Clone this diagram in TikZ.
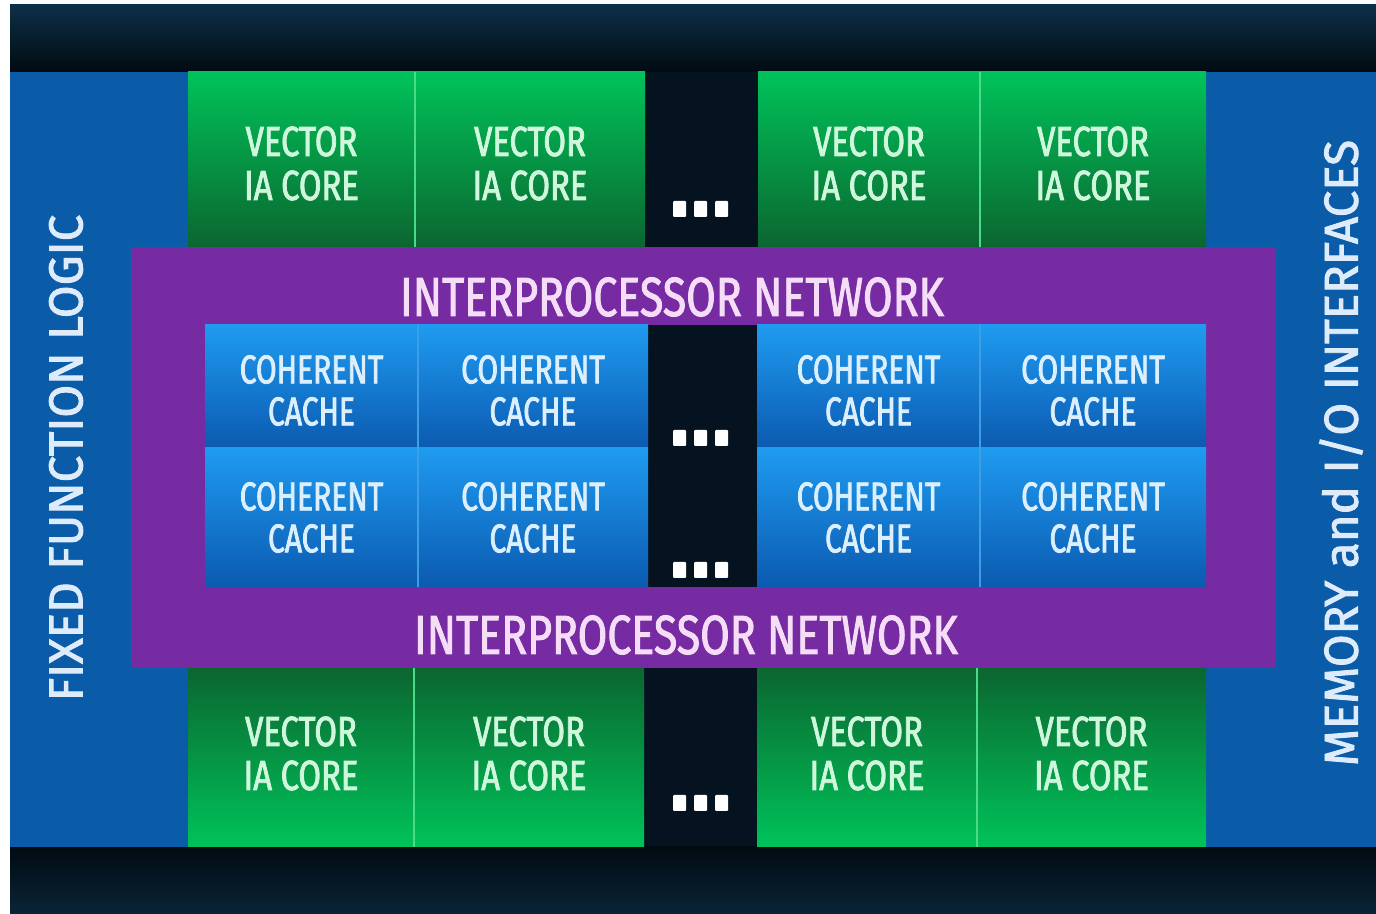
\documentclass[tikz,border=0pt]{standalone}
\usepackage{fontspec}
\newfontfamily\corefont[FakeStretch=0.78,FakeBold=2]{Fira Sans}
\newfontfamily\cachefont[FakeStretch=0.75,FakeBold=2]{Fira Sans}
\newfontfamily\netfont[FakeStretch=0.78,FakeBold=1.6]{Fira Sans}
\newfontfamily\sidefont[FakeStretch=1.0,FakeBold=2]{Fira Sans}
\definecolor{bgdark}{HTML}{04131F}
\definecolor{bandtop}{HTML}{0D2F48}
\definecolor{bandbot}{HTML}{020B11}
\definecolor{sideblue}{HTML}{0A5CA8}
\definecolor{gbright}{HTML}{00C35A}
\definecolor{gdark}{HTML}{0B6630}
\definecolor{gline}{HTML}{4ADB88}
\definecolor{ctop}{HTML}{1E9BF0}
\definecolor{cbot}{HTML}{0B5AB0}
\definecolor{cline}{HTML}{3C9FE6}
\definecolor{purp}{HTML}{762BA3}
\definecolor{coretext}{HTML}{CFF7DC}
\definecolor{cachetext}{HTML}{DCEFFF}
\definecolor{nettext}{HTML}{F5DDF8}
\definecolor{sidetext}{HTML}{DDEBFA}
\tikzset{
  block/.style={rectangle, inner sep=0pt, outer sep=0pt, anchor=north west},
  coretop/.style={block, top color=gbright, bottom color=gdark},
  corebot/.style={block, top color=gdark, bottom color=gbright},
  coretxt/.style={inner sep=0pt, align=center, text=coretext,
     font=\corefont\fontsize{42}{44}\selectfont},
  cachecell/.style={block, top color=ctop, bottom color=cbot},
  cachetxt/.style={inner sep=0pt, align=center, text=cachetext,
     font=\cachefont\fontsize{40}{42}\selectfont},
  netlabel/.style={inner sep=0pt, text=nettext, font=\netfont\fontsize{55}{60}\selectfont},
  sidelabel/.style={inner sep=0pt, text=sidetext, rotate=90, font=\sidefont\fontsize{47.5}{50}\selectfont},
  dotsq/.style={fill=white, rounded corners=1pt}
}
\begin{document}
\begin{tikzpicture}[x=1pt,y=1pt]
\useasboundingbox (0,0) rectangle (1376,913);
\fill[white] (0,0) rectangle (1376,913);
% dark background
\fill[bgdark] (10,0) rectangle (1376,908);
\shade[top color=bandtop, bottom color=bandbot] (10,841) rectangle (1376,908);
\shade[top color=bandbot, bottom color=bandtop!70!bandbot] (10,0) rectangle (1376,66);
% side panels
\node[block, fill=sideblue, minimum width=178pt, minimum height=775pt] (leftpanel) at (10,841) {};
\node[block, fill=sideblue, minimum width=170pt, minimum height=775pt] (rightpanel) at (1206,841) {};
% top cores
\node[coretop, minimum width=227pt, minimum height=175pt] (gT1) at (188,841) {};
\node[coretop, minimum width=230pt, minimum height=175pt] (gT2) at (415,841) {};
\node[coretop, minimum width=222pt, minimum height=175pt] (gT3) at (758,841) {};
\node[coretop, minimum width=226pt, minimum height=175pt] (gT4) at (980,841) {};
\draw[gline, line width=1.5pt] (gT1.north east) -- (gT1.south east);
\draw[gline, line width=1.5pt] (gT3.north east) -- (gT3.south east);
\foreach \n in {gT1,gT2,gT3,gT4}{
  \node[coretxt, yshift=-4pt] (\n-t) at (\n.center) {VECTOR\\IA CORE};
}
% bottom cores
\node[corebot, minimum width=226pt, minimum height=179pt] (gB1) at (188,245) {};
\node[corebot, minimum width=230pt, minimum height=179pt] (gB2) at (414,245) {};
\node[corebot, minimum width=220pt, minimum height=179pt] (gB3) at (757,245) {};
\node[corebot, minimum width=229pt, minimum height=179pt] (gB4) at (977,245) {};
\draw[gline, line width=1.5pt] (gB1.north east) -- (gB1.south east);
\draw[gline, line width=1.5pt] (gB3.north east) -- (gB3.south east);
\foreach \n in {gB1,gB2,gB3,gB4}{
  \node[coretxt, yshift=4pt] (\n-t) at (\n.center) {VECTOR\\IA CORE};
}
% interprocessor network
\node[block, fill=purp, minimum width=1145pt, minimum height=421pt] (net) at (131,666) {};
\node[netlabel] (netT) at (672,616) {INTERPROCESSOR NETWORK};
\node[netlabel] (netB) at (686,278) {INTERPROCESSOR NETWORK};
% caches
\node[block, fill=bgdark, minimum width=109pt, minimum height=262pt] (gap) at (648,588) {};
\node[cachecell, minimum width=213pt, minimum height=123pt] (c11) at (205,588) {};
\node[cachecell, minimum width=230pt, minimum height=123pt] (c12) at (418,588) {};
\node[cachecell, minimum width=223pt, minimum height=123pt] (c13) at (757,588) {};
\node[cachecell, minimum width=226pt, minimum height=123pt] (c14) at (980,588) {};
\node[cachecell, minimum width=213pt, minimum height=139pt] (c21) at (205,465) {};
\node[cachecell, minimum width=230pt, minimum height=139pt] (c22) at (418,465) {};
\node[cachecell, minimum width=223pt, minimum height=139pt] (c23) at (757,465) {};
\node[cachecell, minimum width=226pt, minimum height=139pt] (c24) at (980,465) {};
\draw[cline, line width=1.2pt] (c11.north east) -- (c21.south east);
\draw[cline, line width=1.2pt] (c13.north east) -- (c23.south east);
\foreach \n in {c11,c12,c13,c14}{
  \node[cachetxt, yshift=-4pt] (\n-t) at (\n.center) {COHERENT\\CACHE};
}
\foreach \n in {c21,c22,c23,c24}{
  \node[cachetxt] (\n-t) at (\n.center) {COHERENT\\CACHE};
}
% side labels
\node[sidelabel] (fixed) at (66,455) {FIXED FUNCTION LOGIC};
\node[sidelabel] (memio) at (1341,460) {MEMORY and I/O INTERFACES};
% ellipsis dots
\foreach \yy in {712, 483, 351, 118}{
  \foreach \xx in {673,694,715}{
    \fill[dotsq] (\xx,\yy) rectangle ++(13,-16);
  }
}
\end{tikzpicture}
\end{document}
